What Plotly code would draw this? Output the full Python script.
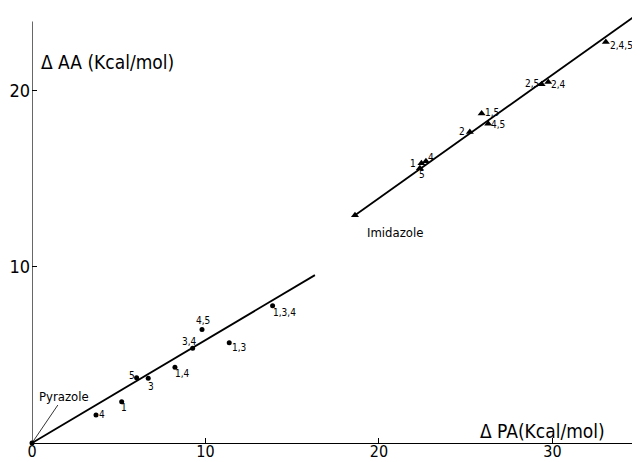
import plotly.graph_objects as go

# ---- data (kcal/mol) ----
pyr_labels = ["Pyrazole", "4", "1", "5", "3", "1,4", "3,4", "4,5", "1,3", "1,3,4"]
pyr_pa = [0.0, 3.69, 5.17, 6.03, 6.70, 8.24, 9.26, 9.80, 11.37, 13.87]
pyr_aa = [0.0, 1.59, 2.34, 3.70, 3.67, 4.29, 5.37, 6.44, 5.68, 7.78]

imi_labels = ["Imidazole", "1", "4", "5", "2", "1,5", "4,5", "2,5", "2,4", "2,4,5"]
imi_pa = [18.62, 22.45, 22.71, 22.36, 25.24, 25.92, 26.30, 29.38, 29.76, 33.08]
imi_aa = [12.92, 15.86, 15.98, 15.58, 17.64, 18.68, 18.11, 20.34, 20.47, 22.74]

pyr_fit_pa = [0.0, 16.31]
pyr_fit_aa = [0.0, 9.52]
imi_fit_pa = [18.62, 35.1]
imi_fit_aa = [12.92, 24.45]

x_ticks = [0, 10, 20, 30]
x_ticktext = ["0", "10", "20", "30"]
y_ticks = [10, 20]
y_ticktext = ["10", "20"]

x_title = "Δ PA(Kcal/mol)"
y_title = "Δ AA (Kcal/mol)"

# ---- label offsets in pixels (style, not data) ----
pyr_offsets = {"4": (6, 0), "1": (2, -6), "5": (-5, 2), "3": (3, -8), "1,4": (8, -6),
               "3,4": (-3, 7), "4,5": (1, 9), "1,3": (10, -5), "1,3,4": (12, -7)}
imi_offsets = {"Imidazole": (40, -17), "1": (-8, 0), "4": (5, 4), "5": (2, -6), "2": (-8, 0),
               "1,5": (10, 1), "4,5": (10, -1), "2,5": (-10, 1), "2,4": (10, -2), "2,4,5": (16, -3)}

FONT = "DejaVu Sans Condensed, DejaVu Sans, sans-serif"

fig = go.Figure()
fig.add_trace(go.Scatter(x=pyr_fit_pa, y=pyr_fit_aa, mode="lines",
                         line=dict(color="black", width=1.8), hoverinfo="skip"))
fig.add_trace(go.Scatter(x=imi_fit_pa, y=imi_fit_aa, mode="lines",
                         line=dict(color="black", width=1.8), hoverinfo="skip"))
fig.add_trace(go.Scatter(x=pyr_pa, y=pyr_aa, mode="markers",
                         marker=dict(symbol="circle", size=5, color="black"), cliponaxis=False))
fig.add_trace(go.Scatter(x=imi_pa, y=imi_aa, mode="markers",
                         marker=dict(symbol="triangle-up", size=7, color="black"), cliponaxis=False))

annotations = []
for lab, x, y in zip(pyr_labels, pyr_pa, pyr_aa):
    if lab in pyr_offsets:
        dx, dy = pyr_offsets[lab]
        annotations.append(dict(x=x, y=y, xref="x", yref="y", text=lab, showarrow=False,
                                xshift=dx, yshift=dy, xanchor="center", yanchor="middle",
                                font=dict(family=FONT, size=10, color="black")))
# Pyrazole label with leader line to origin
annotations.append(dict(x=pyr_pa[0], y=pyr_aa[0], xref="x", yref="y", text=pyr_labels[0],
                        showarrow=True, arrowhead=0, arrowwidth=0.8, arrowcolor="black",
                        ax=32, ay=-47, font=dict(family=FONT, size=13, color="black")))
for lab, x, y in zip(imi_labels, imi_pa, imi_aa):
    dx, dy = imi_offsets[lab]
    annotations.append(dict(x=x, y=y, xref="x", yref="y", text=lab, showarrow=False,
                            xshift=dx, yshift=dy, xanchor="center", yanchor="middle",
                            font=dict(family=FONT, size=13 if lab == "Imidazole" else 10,
                                      color="black")))
# axis titles
annotations.append(dict(x=0.4, y=21.6, xref="x", yref="y", text=y_title, showarrow=False,
                        xanchor="left", yanchor="middle",
                        font=dict(family=FONT, size=19, color="black")))
annotations.append(dict(x=25.7, y=0.68, xref="x", yref="y", text=x_title, showarrow=False,
                        xanchor="left", yanchor="middle",
                        font=dict(family=FONT, size=19, color="black")))

# the page body has an 8 px margin, so the figure is sized to fill the rest of the window
fig.update_layout(
    width=632, height=454,
    margin=dict(l=24, r=0, t=3, b=19),
    paper_bgcolor="white", plot_bgcolor="white",
    showlegend=False,
    annotations=annotations,
    shapes=[dict(type="line", xref="x", yref="y", x0=0, x1=0, y0=0, y1=23.9,
                 line=dict(color="black", width=1.2))],
)
fig.update_xaxes(range=[0, 35.05], showgrid=False, zeroline=False, showline=True,
                 linecolor="black", linewidth=1.2, ticks="inside", ticklen=5,
                 tickcolor="black", tickvals=x_ticks, ticktext=x_ticktext,
                 ticklabelstandoff=-6,
                 tickfont=dict(family=FONT, size=16, color="black"), automargin=False)
fig.update_yaxes(range=[0, 24.5], showgrid=False, zeroline=False, showline=False,
                 ticks="inside", ticklen=5, tickcolor="black",
                 tickvals=y_ticks, ticktext=y_ticktext, ticklabelstandoff=1,
                 tickfont=dict(family=FONT, size=18, color="black"), automargin=False)

fig.write_html("out.html")
